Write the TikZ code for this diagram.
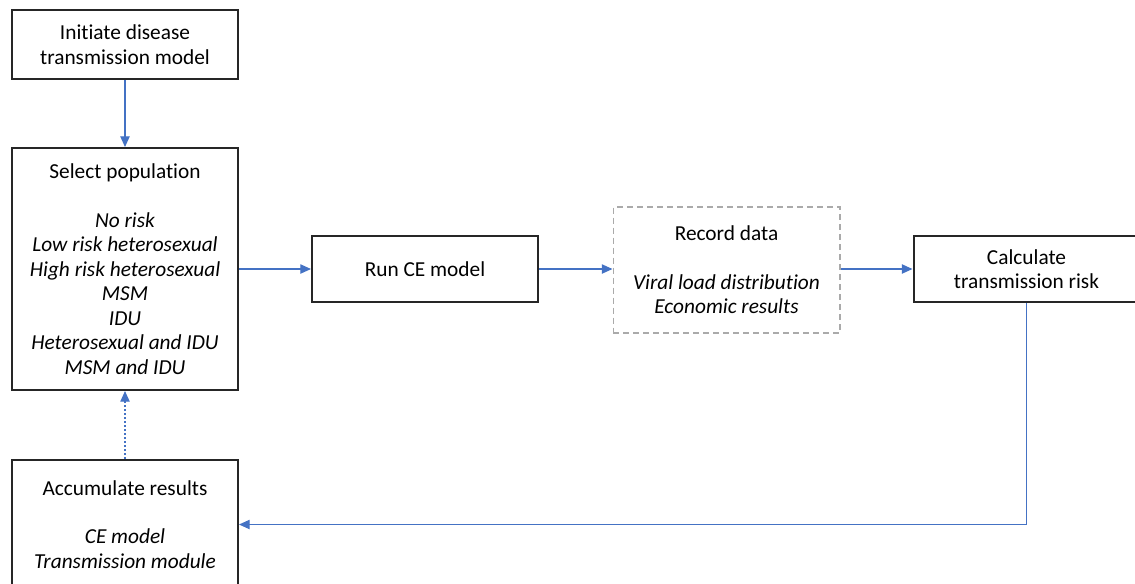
\documentclass[tikz,border=0pt]{standalone}
\usepackage{fontspec}
\setmainfont{Carlito}[Ligatures=NoCommon]
\usetikzlibrary{arrows.meta, positioning}
\definecolor{flowblue}{RGB}{68, 114, 196}
\definecolor{dashgray}{RGB}{170, 170, 170}

\begin{document}
\begin{tikzpicture}[
    x=0.75pt, y=-0.75pt,
    font=\fontsize{16}{18.4}\selectfont,
    box/.style={rectangle, draw=black!85, line width=1.5pt, align=center, minimum width=169.5pt, inner sep=0pt},
    databox/.style={rectangle, draw=dashgray, line width=1pt, dash pattern=on 4.5pt off 3pt, align=center, minimum width=170pt, inner sep=0pt},
    arrow/.style={-{Triangle[length=8pt, width=7pt]}, draw=flowblue, line width=0.9pt},
    dotarrow/.style={arrow, dash pattern=on 1.5pt off 1.5pt}
]

\useasboundingbox (0,0) rectangle (1135,583);

\node[box, minimum height=51.75pt] (init) at (125,44.5) {Initiate disease\\transmission model};
\node[box, minimum height=181.5pt] (select) at (125,269) {Select population\\[18pt]
    \itshape No risk\\ \itshape Low risk heterosexual\\ \itshape High risk heterosexual\\ \itshape MSM\\
    \itshape IDU\\ \itshape Heterosexual and IDU\\ \itshape MSM and IDU};
\node[box, minimum height=96.75pt] (accum) at (125,524.5) {Accumulate results\\[18pt]
    \itshape CE model\\ \itshape Transmission module};

\node[box, minimum height=49.5pt] (runce) at (425,269) {Run CE model};
\node[databox, minimum height=94.5pt] (record) at (726.5,270) {Record data\\[18pt]
    \itshape Viral load distribution\\ \itshape Economic results};
\node[box, minimum height=49.5pt] (calc) at (1026.5,269) {Calculate\\transmission risk};

\draw[arrow] (init) -- (select);
\draw[arrow] (select) -- (runce);
\draw[arrow] (runce.east) -- (runce.east -| record.west);
\draw[arrow] (record.east |- calc.west) -- (calc.west);
\draw[arrow] (calc.south) |- (accum.east);
\draw[dotarrow] (accum) -- (select);

\end{tikzpicture}
\end{document}
